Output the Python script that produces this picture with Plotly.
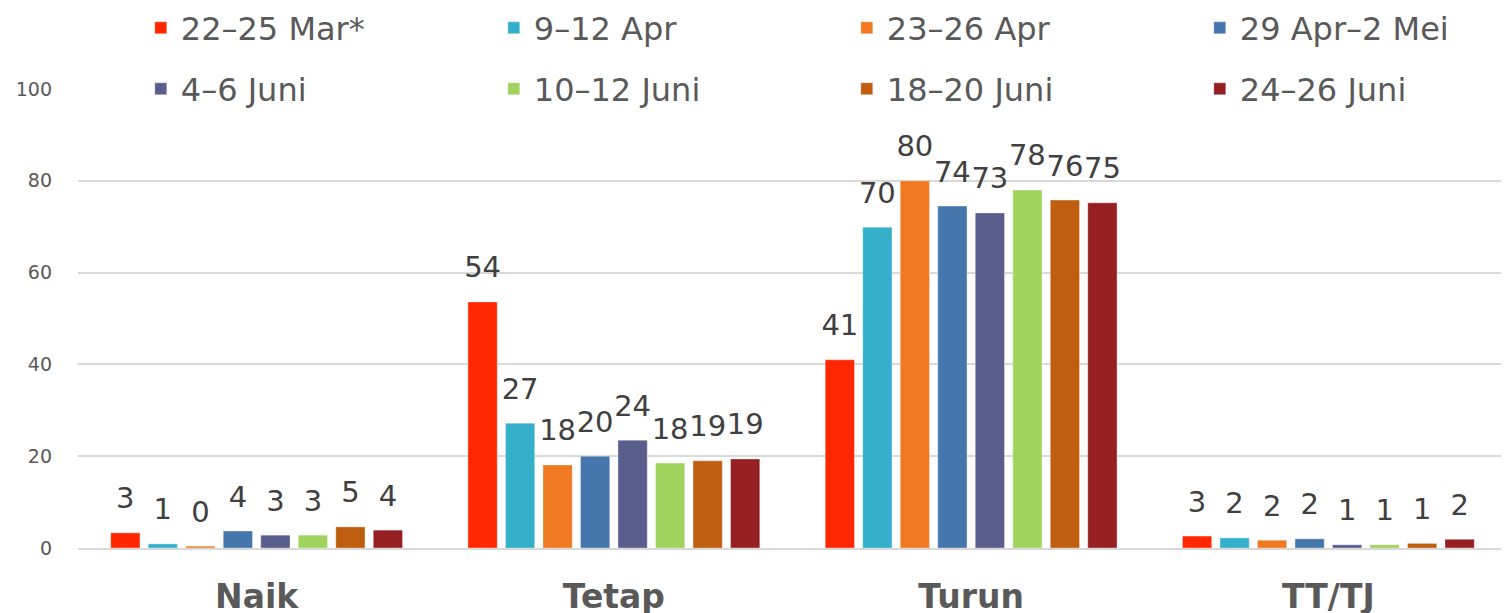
import plotly.graph_objects as go

categories = ["Naik", "Tetap", "Turun", "TT/TJ"]
series_names = ["22–25 Mar*", "9–12 Apr", "23–26 Apr", "29 Apr–2 Mei",
                "4–6 Juni", "10–12 Juni", "18–20 Juni", "24–26 Juni"]
s_22_25_mar = [3.3, 53.6, 41.0, 2.6]
s_9_12_apr = [0.9, 27.2, 69.9, 2.2]
s_23_26_apr = [0.4, 18.1, 80.0, 1.7]
s_29apr_2mei = [3.7, 20.0, 74.5, 2.0]
s_4_6_juni = [2.8, 23.5, 73.0, 0.7]
s_10_12_juni = [2.8, 18.5, 78.0, 0.7]
s_18_20_juni = [4.6, 19.0, 75.8, 1.0]
s_24_26_juni = [3.9, 19.4, 75.2, 1.9]
series_values = [s_22_25_mar, s_9_12_apr, s_23_26_apr, s_29apr_2mei,
                 s_4_6_juni, s_10_12_juni, s_18_20_juni, s_24_26_juni]
colors = ["#FF2700", "#34B0CA", "#F07A22", "#4677AC",
          "#5A5E8C", "#A1D45F", "#C05E10", "#962021"]
y_ticks = [0, 20, 40, 60, 80, 100]

FONT = "DejaVu Sans, sans-serif"
GAP = 0.16

fig = go.Figure()
for i, (name, vals, col) in enumerate(zip(series_names, series_values, colors)):
    fig.add_trace(go.Bar(
        name=name, x=categories, y=vals, offsetgroup=str(i),
        marker=dict(color=col, line=dict(color="rgba(255,255,255,0.35)", width=1)),
        legend="legend" if i < 4 else "legend2",
    ))
for i, (name, vals) in enumerate(zip(series_names, series_values)):
    fig.add_trace(go.Scatter(
        x=categories, y=vals, offsetgroup=str(i), mode="markers+text",
        text=[f"{v:.0f}" for v in vals], textposition="top center",
        marker=dict(size=26, opacity=0), cliponaxis=False,
        textfont=dict(family=FONT, size=29, color="#404040"),
        showlegend=False, hoverinfo="skip",
    ))

legend_common = dict(
    orientation="h", xref="container", yref="container",
    xanchor="left", yanchor="middle",
    entrywidth=308, entrywidthmode="pixels",
    font=dict(family=FONT, size=32, color="#595959"),
    bgcolor="rgba(0,0,0,0)", itemwidth=30,
)

fig.update_layout(
    width=1509, height=613,
    barmode="group", bargap=GAP, bargroupgap=0.22,
    scattermode="group", scattergap=GAP,
    paper_bgcolor="white", plot_bgcolor="white",
    margin=dict(l=70, r=10, t=81, b=73, autoexpand=False),
    font=dict(family=FONT, color="#595959"),
    legend=dict(legend_common, x=0.088, y=1 - 20 / 613),
    legend2=dict(legend_common, x=0.088, y=1 - 81 / 613),
    xaxis=dict(
        tickfont=dict(family=FONT, size=33, color="#595959", weight="bold"),
        showline=True, linecolor="#D9D9D9", linewidth=2,
        ticks="", ticklabelstandoff=18,
    ),
    yaxis=dict(
        range=[0, 100], tickvals=y_ticks,
        tickfont=dict(family=FONT, size=19, color="#595959"),
        showgrid=True, gridcolor="#D9D9D9", gridwidth=2,
        zeroline=False, showline=False, ticks="", ticklabelstandoff=25,
    ),
)

fig.write_html("out.html")
